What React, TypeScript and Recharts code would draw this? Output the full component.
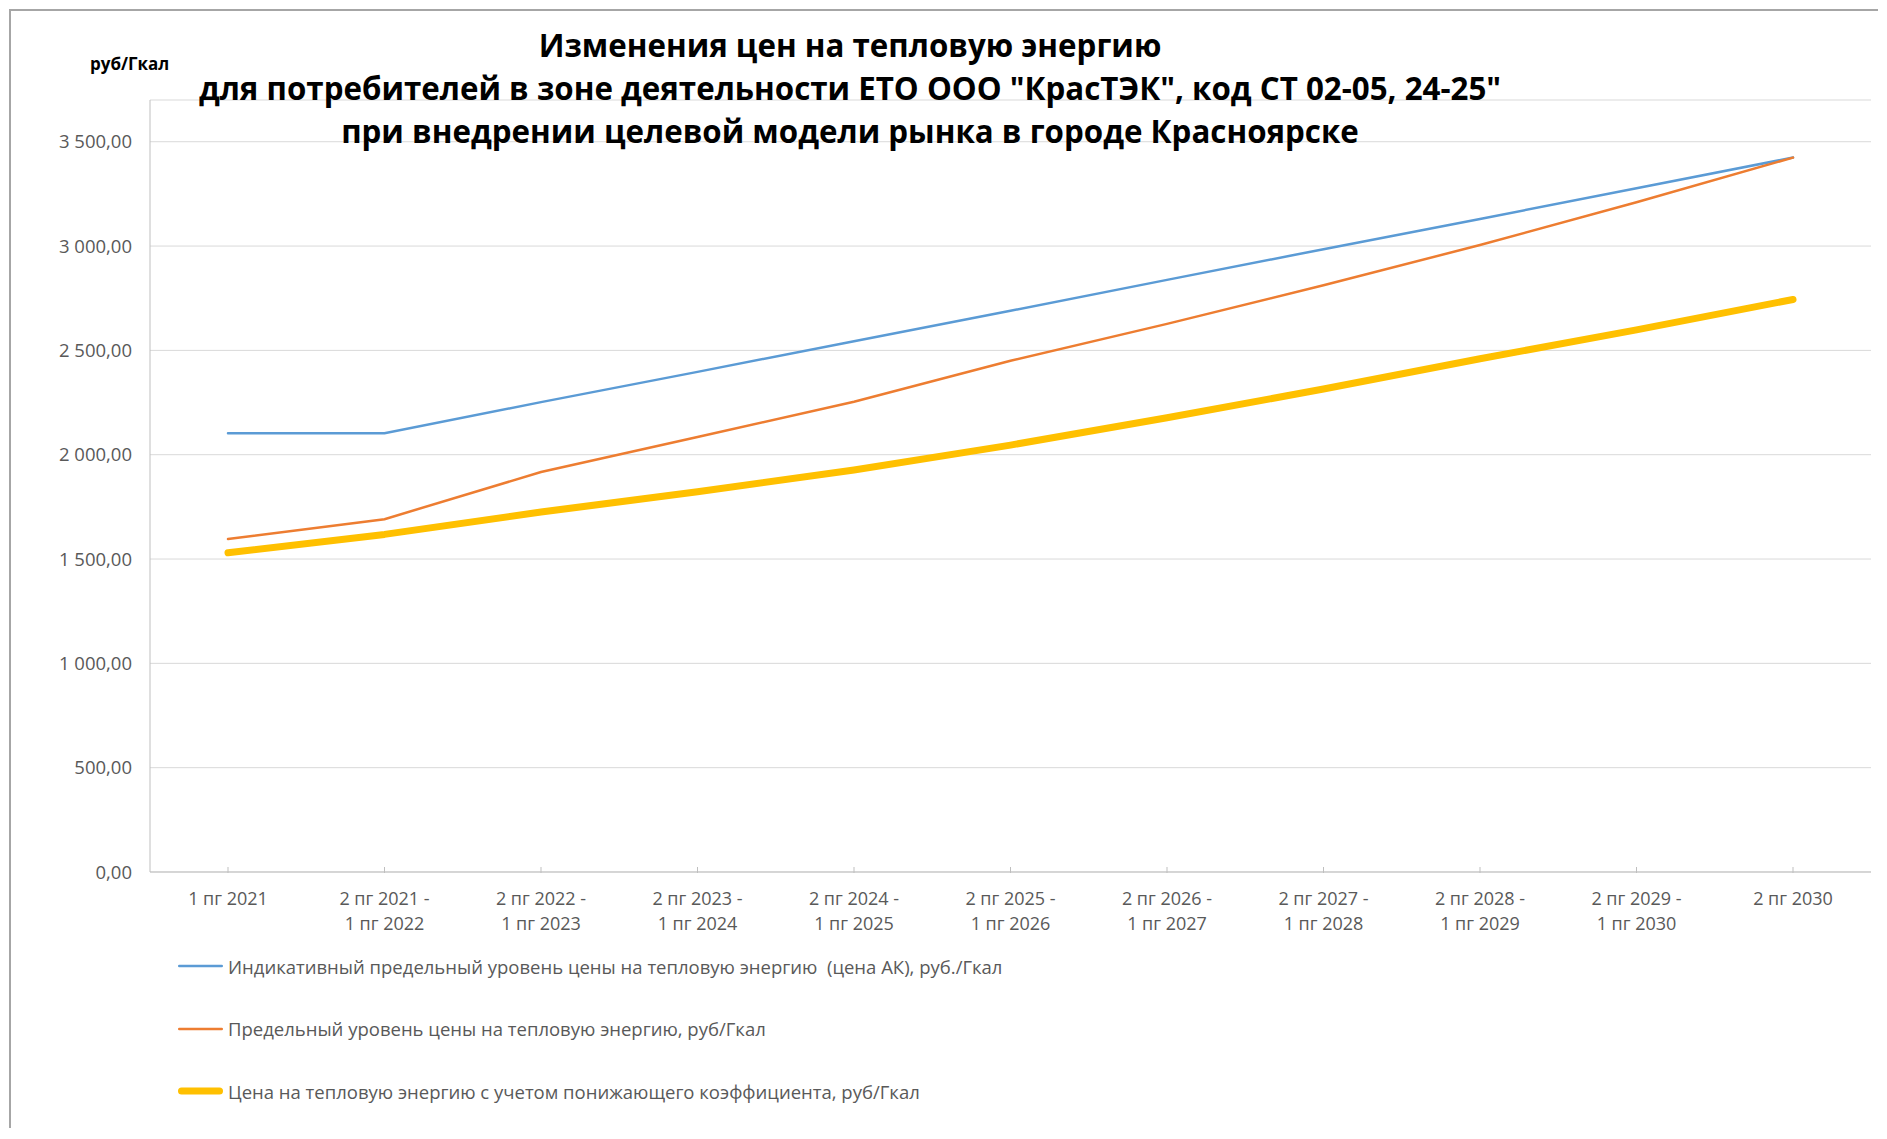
import React from 'react';
import { LineChart, Line, XAxis, YAxis, CartesianGrid } from 'recharts';

const categories: string[] = [
  '1 пг 2021',
  '2 пг 2021 -\n1 пг 2022',
  '2 пг 2022 -\n1 пг 2023',
  '2 пг 2023 -\n1 пг 2024',
  '2 пг 2024 -\n1 пг 2025',
  '2 пг 2025 -\n1 пг 2026',
  '2 пг 2026 -\n1 пг 2027',
  '2 пг 2027 -\n1 пг 2028',
  '2 пг 2028 -\n1 пг 2029',
  '2 пг 2029 -\n1 пг 2030',
  '2 пг 2030',
];

const indicative: number[] = [2103, 2103, 2252, 2397, 2544, 2690, 2838, 2985, 3130, 3277, 3424];
const limit: number[] = [1596, 1691, 1917, 2085, 2254, 2450, 2627, 2812, 3005, 3210, 3424];
const reduced: number[] = [1530, 1618, 1725, 1822, 1927, 2046, 2177, 2315, 2460, 2598, 2744];

const yTicks: number[] = [0, 500, 1000, 1500, 2000, 2500, 3000, 3500];

const seriesNames: string[] = [
  'Индикативный предельный уровень цены на тепловую энергию  (цена АК), руб./Гкал',
  'Предельный уровень цены на тепловую энергию, руб/Гкал',
  'Цена на тепловую энергию с учетом понижающего коэффициента, руб/Гкал',
];

const titleLines: string[] = [
  'Изменения цен на тепловую энергию',
  'для потребителей в зоне деятельности ЕТО ООО "КрасТЭК", код СТ 02-05, 24-25"',
  'при внедрении целевой модели рынка в городе Красноярске',
];

const data = categories.map((c, i) => ({
  cat: c,
  a: indicative[i],
  b: limit[i],
  c: reduced[i],
}));

const FONT = '"Open Sans", "DejaVu Sans", sans-serif';
const TEXT = '#595959';

const fmt = (v: number) => {
  const [i, d] = v.toFixed(2).split('.');
  return i.replace(/\B(?=(\d{3})+$)/g, ' ') + ',' + d;
};

const XTick = (props: any) => {
  const { x, y, payload } = props;
  const lines = String(payload.value).split('\n');
  return (
    <g>
      <line x1={x} x2={x} y1={y - 5} y2={y + 1} stroke="#bfbfbf" strokeWidth={1} />
      <text x={x} y={y} textAnchor="middle" fontSize={18} fill={TEXT} fontFamily={FONT}>
        {lines.map((l, i) => (
          <tspan key={i} x={x} dy={i === 0 ? 33 : 25}>
            {l}
          </tspan>
        ))}
      </text>
    </g>
  );
};

const colors = ['#5B9BD5', '#ED7D31', '#FFC000'];
const widths = [2.5, 2.5, 7];

const LegendBlock = () => (
  <div style={{ position: 'absolute', left: 169, top: 927, fontFamily: FONT, zIndex: 2 }}>
    {seriesNames.map((n, i) => (
      <div key={i} style={{ height: 62.5, display: 'flex', alignItems: 'center' }}>
        <svg width={50} height={14} style={{ display: 'block' }}>
          <line
            x1={widths[i] / 2 + 1}
            x2={46 - widths[i] / 2}
            y1={7}
            y2={7}
            stroke={colors[i]}
            strokeWidth={widths[i]}
            strokeLinecap="round"
          />
        </svg>
        <span style={{ fontSize: 18.5, color: TEXT, whiteSpace: 'pre', marginLeft: 1 }}>{n}</span>
      </div>
    ))}
  </div>
);

export default function App() {
  return (
    <div style={{ position: 'relative', width: 1870, height: 1120, background: '#fff', overflow: 'hidden' }}>
      <div
        style={{
          position: 'absolute',
          left: 1,
          top: 1,
          width: 1900,
          height: 1200,
          borderLeft: '2px solid #a6a6a6',
          borderTop: '2px solid #a6a6a6',
        }}
      />
      <div
        style={{
          position: 'absolute',
          left: 0,
          top: 16,
          width: 1684,
          textAlign: 'center',
          fontFamily: FONT,
          fontWeight: 700,
          fontSize: 31.3,
          lineHeight: '43px',
          color: '#000',
          zIndex: 2,
        }}
      >
        {titleLines.map((t, i) => (
          <div key={i} style={{ whiteSpace: 'pre' }}>
            {t}
          </div>
        ))}
      </div>
      <div
        style={{
          position: 'absolute',
          left: 82,
          top: 44,
          fontFamily: FONT,
          fontWeight: 700,
          fontSize: 17,
          color: '#000',
          zIndex: 2,
        }}
      >
        руб/Гкал
      </div>
      <div style={{ position: 'absolute', left: 0, top: 0 }}>
        <LineChart
          width={1870}
          height={1120}
          data={data}
          margin={{ top: 92, right: 7, left: 0, bottom: 196 }}
        >
          <CartesianGrid horizontal={true} vertical={false} stroke="#d9d9d9" strokeWidth={1} />
          <XAxis
            dataKey="cat"
            type="category"
            height={60}
            interval={0}
            padding={{ left: 78, right: 78 }}
            tickLine={false}
            tickSize={0}
            tickMargin={0}
            axisLine={{ stroke: '#bfbfbf', strokeWidth: 1 }}
            tick={<XTick />}
          />
          <YAxis
            width={142}
            domain={[0, 3700]}
            ticks={yTicks}
            type="number"
            tickLine={false}
            tickSize={0}
            tickMargin={18}
            axisLine={{ stroke: '#bfbfbf', strokeWidth: 1 }}
            tickFormatter={fmt}
            tick={{ fontSize: 18.5, fill: TEXT, fontFamily: FONT }}
            allowDataOverflow={true}
          />
          <Line
            type="linear"
            dataKey="a"
            name={seriesNames[0]}
            stroke={colors[0]}
            strokeWidth={widths[0]}
            dot={false}
            activeDot={false}
            isAnimationActive={false}
            strokeLinecap="round"
          />
          <Line
            type="linear"
            dataKey="b"
            name={seriesNames[1]}
            stroke={colors[1]}
            strokeWidth={widths[1]}
            dot={false}
            activeDot={false}
            isAnimationActive={false}
            strokeLinecap="round"
          />
          <Line
            type="linear"
            dataKey="c"
            name={seriesNames[2]}
            stroke={colors[2]}
            strokeWidth={widths[2]}
            dot={false}
            activeDot={false}
            isAnimationActive={false}
            strokeLinecap="round"
            strokeLinejoin="round"
          />
        </LineChart>
      </div>
      <LegendBlock />
    </div>
  );
}
